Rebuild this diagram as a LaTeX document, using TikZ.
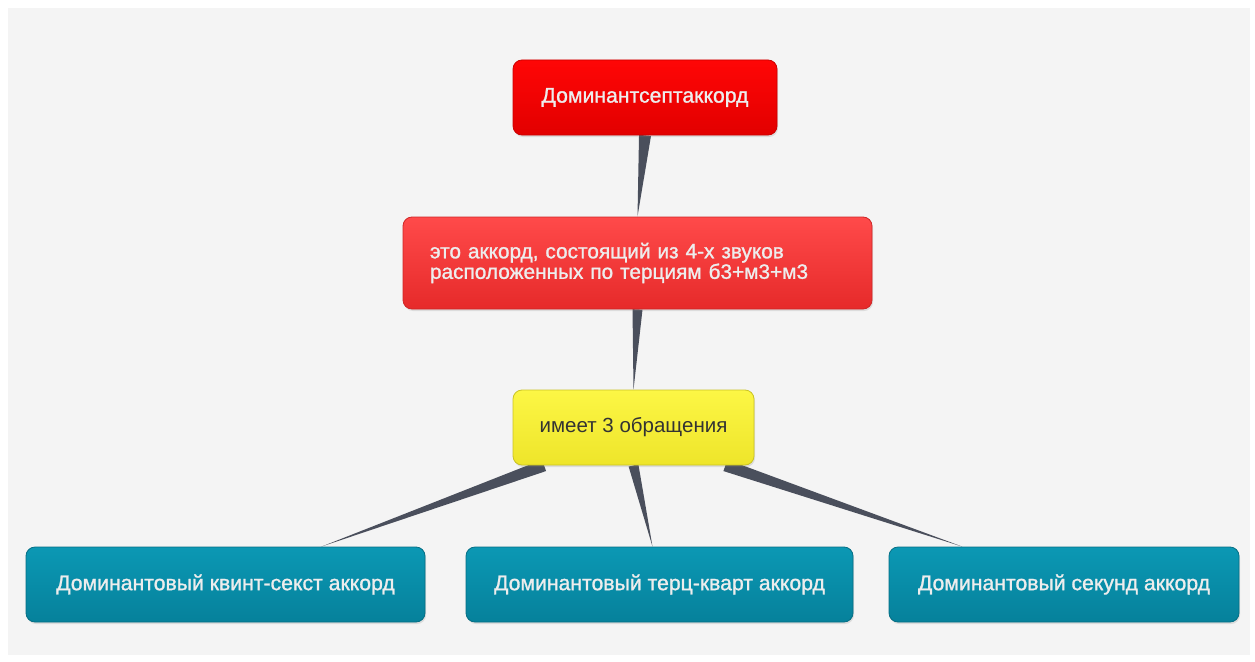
\documentclass[tikz,border=0pt]{standalone}
\usepackage{fontspec}
\setmainfont{Liberation Sans}
\newfontfamily\midfont[FakeBold=1.2]{Liberation Sans}
\usepackage{xcolor}
\usetikzlibrary{calc,backgrounds,shadows}

\definecolor{pagegrey}{HTML}{F4F4F4}
\definecolor{wirecol}{HTML}{4A4F5C}
\definecolor{redtop}{HTML}{FF0606}
\definecolor{redbot}{HTML}{E20000}
\definecolor{pinktop}{HTML}{FF4A4A}
\definecolor{pinkbot}{HTML}{E62A2A}
\definecolor{yeltop}{HTML}{FCF645}
\definecolor{yelbot}{HTML}{EEE52A}
\definecolor{tealtop}{HTML}{0B98B4}
\definecolor{tealbot}{HTML}{06819B}

\newcommand{\wedgelink}[3]{%
\fill[wire] ($(#1)!#3!90:(#2)$) -- ($(#1)!#3!-90:(#2)$) -- (#2) -- cycle;}

\begin{document}
\begin{tikzpicture}[
x=1pt,y=-1pt,
box/.style={
rounded corners=9pt,
draw,
line width=0.8pt,
minimum height=75pt,
align=center,
font=\fontsize{21.2}{20.5}\midfont,
drop shadow={shadow xshift=1pt,shadow yshift=-2pt,opacity=0.2}
},
redbox/.style={top color=redtop,bottom color=redbot,draw=red!80!black,text=white!93!black},
pinkbox/.style={top color=pinktop,bottom color=pinkbot,draw=pinkbot!90!black,text=white!93!black,
font=\fontsize{20.8}{20.5}\midfont},
yellowbox/.style={top color=yeltop,bottom color=yelbot,draw=yelbot!85!black,text=black!80,
font=\fontsize{20.5}{22}\selectfont},
tealbox/.style={top color=tealtop,bottom color=tealbot,draw=tealbot!85!black,text=white!93!black},
wire/.style={fill=wirecol}
]

\node[box,redbox,minimum width=264pt] (dom) at (645,97.5) {Доминантсептаккорд};
\node[box,pinkbox,minimum height=92pt,text width=415pt,inner xsep=27pt,align=left] (def) at (637.5,263)
{это аккорд, состоящий из 4-х звуков\\расположенных по терциям б3+м3+м3};
\node[box,yellowbox,minimum width=241pt] (inv) at (633.5,427.5) {имеет 3 обращения};

\node[box,tealbox,minimum width=399pt] (quint) at (225.5,584.5) {Доминантовый квинт-секст аккорд};
\node[box,tealbox,minimum width=387pt] (terz) at (659.5,584.5) {Доминантовый терц-кварт аккорд};
\node[box,tealbox,minimum width=350pt] (sec) at (1064,584.5) {Доминантовый секунд аккорд};

\coordinate (invl) at ($(inv.south west)!0.13!(inv.south east)$);
\coordinate (invr) at ($(inv.south west)!0.88!(inv.south east)$);
\coordinate (quinttip) at ($(quint.north west)!0.74!(quint.north east)$);
\coordinate (terztip) at ($(terz.north)+(-7,0)$);
\coordinate (sectip) at ($(sec.north west)!0.21!(sec.north east)$);

\begin{scope}[on background layer]
\fill[white] (0,0) rectangle (1255,661);
\fill[pagegrey] (8,8) rectangle (1250,655);
\wedgelink{dom.south}{def.north}{6pt}
\wedgelink{def.south}{inv.north}{5pt}
\wedgelink{invl}{quinttip}{6pt}
\wedgelink{inv.south}{terztip}{5pt}
\wedgelink{invr}{sectip}{6pt}
\end{scope}

\end{tikzpicture}
\end{document}
